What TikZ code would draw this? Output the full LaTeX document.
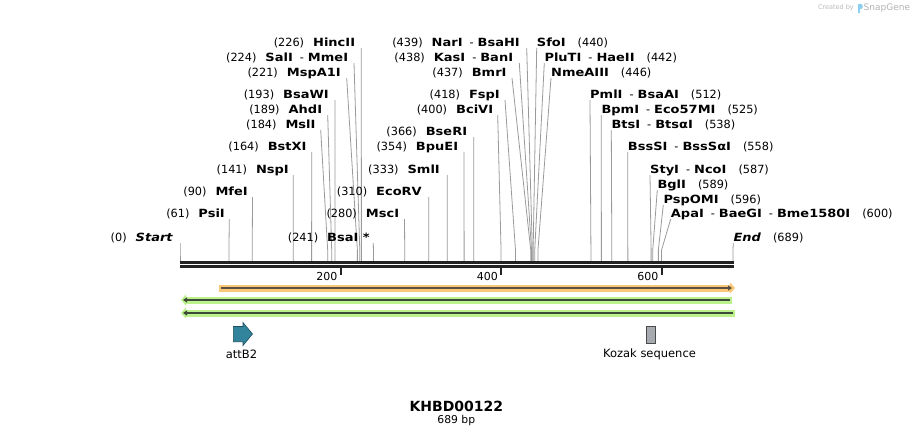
\documentclass[tikz,border=0pt]{standalone}
\usepackage{fontspec}
\setmainfont{DejaVu Sans}[BoldFont={DejaVu Sans Bold}, BoldFeatures={FakeStretch=1.15}, BoldItalicFont={DejaVu Sans Bold Oblique}, BoldItalicFeatures={FakeStretch=1.15}]
\newfontfamily\titlefont{DejaVu Sans Bold}
\usetikzlibrary{arrows.meta}
\definecolor{siteline}{HTML}{9A9A9A}
\definecolor{barcol}{HTML}{222222}
\definecolor{oband}{HTML}{F8C878}
\definecolor{oline}{HTML}{5E5040}
\definecolor{gband}{HTML}{BBF28E}
\definecolor{gline}{HTML}{3E4A38}
\definecolor{attcol}{HTML}{31849B}
\definecolor{attdark}{HTML}{1E4F5E}
\definecolor{kozfill}{HTML}{A7AAAE}
\definecolor{kozdark}{HTML}{4A4A4A}
\definecolor{wmgray}{HTML}{BBBBBB}
\definecolor{wmblue}{HTML}{8CCFF0}
\newcommand{\dsep}{\hspace{7pt}{\mdseries -}\hspace{4pt}}
% left label: id, top x, row y, bp, text right edge, number, names
\newcommand{\lenz}[7]{%
  \node[lbl, anchor=base east] (L#1) at (#5,#3+4.5) {(#6)\hspace{9pt}\textbf{#7}};
  \coordinate (T#1) at (#2,#3+6);
  \coordinate (K#1) at ({180+#4*0.8026},250);
  \coordinate (S#1) at ({180+#4*0.8026},262);
  \draw[siteln] (T#1) -- (K#1) -- (S#1);
}
% right label: id, top x (= text left edge), row y, bp, number, names
\newcommand{\renz}[6]{%
  \node[lbl, anchor=base west] (L#1) at (#2,#3+4.5) {\textbf{#6}\hspace{12pt}(#5)};
  \coordinate (T#1) at (#2,#3+6);
  \coordinate (K#1) at ({180+#4*0.8026},250);
  \coordinate (S#1) at ({180+#4*0.8026},262);
  \draw[siteln] (T#1) -- (K#1) -- (S#1);
}
\begin{document}
\begin{tikzpicture}[x=1pt,y=-1pt,
  lbl/.style={inner sep=0pt, font=\fontsize{11.3}{13}\selectfont},
  siteln/.style={draw=siteline, line width=0.8pt},
  ftxt/.style={inner sep=0pt, font=\fontsize{11.5}{13}\selectfont},
  barln/.style={draw=barcol, line width=2.7pt},
  tickln/.style={draw=barcol, line width=2pt},
  ticklbl/.style={inner sep=0pt, anchor=east, font=\fontsize{11}{12}\selectfont}]
\useasboundingbox[fill=white] (0,0) rectangle (914,437);

% enzyme sites, left-side labels
\lenz{HincII}{361.3}{42}{226}{355.3}{226}{HincII}
\lenz{SalI}{354}{57}{224}{348.3}{224}{SalI\dsep MmeI}
\lenz{MspAlI}{346.7}{72}{221}{341}{221}{MspA1I}
\lenz{BsaWI}{335}{94}{193}{329}{193}{BsaWI}
\lenz{AhdI}{327.7}{109}{189}{322.3}{189}{AhdI}
\lenz{MslI}{320.7}{124}{184}{315.7}{184}{MslI}
\lenz{BstXI}{311.7}{146}{164}{306.7}{164}{BstXI}
\lenz{NspI}{293.3}{169}{141}{289}{141}{NspI}
\lenz{MfeI}{252.5}{191}{90}{248}{90}{MfeI}
\lenz{PsiI}{229.3}{213}{61}{225}{61}{PsiI}
\lenz{BsaI}{373.3}{237}{241}{370}{241}{BsaI *}
\lenz{MscI}{404.5}{213}{280}{399.3}{280}{MscI}
\lenz{EcoRV}{428.8}{191}{310}{422}{310}{EcoRV}
\lenz{SmlI}{447.3}{169}{333}{440}{333}{SmlI}
\lenz{BpuEI}{464}{146}{354}{458.3}{354}{BpuEI}
\lenz{BseRI}{473.8}{131}{366}{467.3}{366}{BseRI}
\lenz{BciVI}{497.7}{109}{400}{493.3}{400}{BciVI}
\lenz{FspI}{505}{94}{418}{500}{418}{FspI}
\lenz{BmrI}{512}{72}{437}{506.7}{437}{BmrI}
\lenz{KasI}{519.3}{57}{438}{513.3}{438}{KasI\dsep BanI}
\lenz{NarI}{526.7}{42}{439}{520}{439}{NarI\dsep BsaHI}
\lenz{Start}{180}{237}{0}{173.3}{0}{\itshape Start}

% enzyme sites, right-side labels
\renz{SfoI}{536.7}{42}{440}{440}{SfoI}
\renz{PluTI}{544.3}{57}{442}{442}{PluTI\dsep HaeII}
\renz{NmeAIII}{551}{72}{446}{446}{NmeAIII}
\renz{PmlI}{590}{94}{512}{512}{PmlI\dsep BsaAI}
\renz{BpmI}{601.3}{109}{525}{525}{BpmI\dsep Eco57MI}
\renz{BtsI}{611.3}{124}{538}{538}{BtsI\dsep BtsαI}
\renz{BssSI}{627.7}{146}{558}{558}{BssSI\dsep BssSαI}
\renz{StyI}{650}{169}{587}{587}{StyI\dsep NcoI}
\renz{BglI}{657.3}{184}{589}{589}{BglI}
\renz{PspOMI}{663.3}{199}{596}{596}{PspOMI}
\renz{ApaI}{670.7}{213}{600}{600}{ApaI\dsep BaeGI\dsep Bme1580I}
\renz{End}{733.3}{237}{689}{689}{\itshape End}

% sequence bar
\coordinate (b0) at (180,262.3);
\coordinate (b1) at (733.5,262.3);
\coordinate (c0) at (180,266.8);
\coordinate (c1) at (733.5,266.8);
\draw[barln] (b0) -- (b1);
\draw[barln] (c0) -- (c1);

% ticks
\foreach \v in {200,400,600}{
  \coordinate (tk\v) at ({180+\v*0.8026},267);
  \coordinate (tb\v) at ({180+\v*0.8026},275);
  \draw[tickln] (tk\v) -- (tb\v);
  \node[ticklbl] (tl\v) at ({180+\v*0.8026-3},276.5) {\v};
}

% orange feature (forward)
\coordinate (o0) at (219,288);
\coordinate (o1) at (735,288);
\draw[draw=oband, line width=7pt, -{Triangle[length=5pt,width=11pt]}] (o0) -- (o1);
\coordinate (oi0) at (221,288);
\coordinate (oi1) at (732,288);
\draw[draw=oline, line width=2pt, -{Triangle[length=4pt,width=5pt]}] (oi0) -- (oi1);

% green features (reverse)
\coordinate (g0a) at (732,300);
\coordinate (g1a) at (181,300);
\draw[draw=gband, line width=7pt, -{Triangle[length=5pt,width=11pt]}] (g0a) -- (g1a);
\coordinate (gi0a) at (730,300);
\coordinate (gi1a) at (183,300);
\draw[draw=gline, line width=2pt, -{Triangle[length=4pt,width=5pt]}] (gi0a) -- (gi1a);

\coordinate (g0b) at (735,313);
\coordinate (g1b) at (181,313);
\draw[draw=gband, line width=7pt, -{Triangle[length=5pt,width=11pt]}] (g0b) -- (g1b);
\coordinate (gi0b) at (733,313);
\coordinate (gi1b) at (183,313);
\draw[draw=gline, line width=2pt, -{Triangle[length=4pt,width=5pt]}] (gi0b) -- (gi1b);

% attB2
\draw[fill=attcol, draw=attdark, line width=0.6pt]
  (233.3,326.5) -- (243,326.5) -- (243,322.5) -- (252.5,334) -- (243,345.5)
  -- (243,341.7) -- (233.3,341.7) -- cycle;
\node[ftxt] (attB2) at (241.5,354) {attB2};

% Kozak
\draw[fill=kozfill, draw=kozdark, line width=0.6pt] (646.7,326.3) rectangle (655,343);
\node[ftxt] (kozak) at (649.5,354) {Kozak sequence};

% title
\node[inner sep=0pt, font=\titlefont\fontsize{14}{16}\selectfont] (title) at (456.3,406) {KHBD00122};
\node[inner sep=0pt, font=\fontsize{10.8}{12}\selectfont] (size) at (456.3,420.5) {689 bp};

% watermark
\node[inner sep=0pt, anchor=east, text=wmgray, font=\fontsize{6.5}{7}\selectfont] (wm1) at (854,8) {Created by};
\fill[wmblue] (857.5,3.5) rectangle (860,13);
\fill[wmblue] (860,3.5) -- (862.5,5) -- (862.5,8) -- (860,9.5) -- cycle;
\node[inner sep=0pt, anchor=west, text=wmgray!110, font=\fontsize{9}{10}\selectfont] (wm2) at (863.5,8) {SnapGene};
\end{tikzpicture}
\end{document}
